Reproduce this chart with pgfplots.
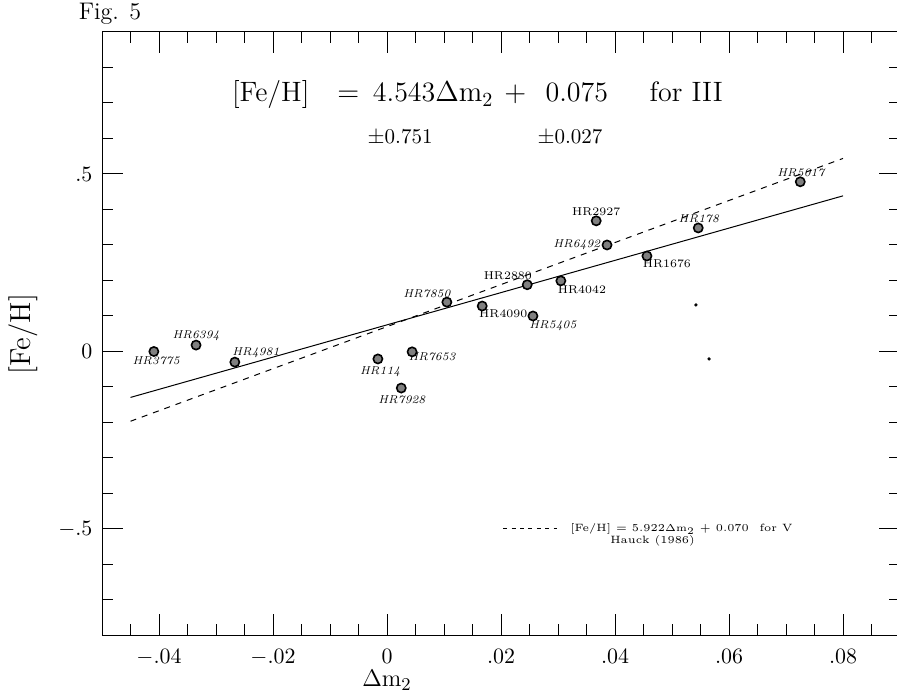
\documentclass[border=0pt]{standalone}
\usepackage{pgfplots}
\pgfplotsset{compat=1.18}
\begin{document}
\begin{tikzpicture}
\useasboundingbox (0,0) rectangle (448.5pt,347pt);
\begin{axis}[
  at={(51pt,29.25pt)}, anchor=south west, scale only axis,
  width=399pt, height=301.75pt,
  xmin=-0.05, xmax=0.09, ymin=-0.8, ymax=0.9,
  xtick={-0.04,-0.02,0,0.02,0.04,0.06,0.08},
  xticklabels={$-.04$,$-.02$,$0$,$.02$,$.04$,$.06$,$.08$},
  minor xtick={-0.045,-0.035,-0.03,-0.025,-0.015,-0.01,-0.005,0.005,0.01,0.015,0.025,0.03,0.035,0.045,0.05,0.055,0.065,0.07,0.075,0.085},
  ytick={-0.5,0,0.5}, yticklabels={$-.5$,$0$,$.5$},
  minor ytick={-0.7,-0.6,-0.4,-0.3,-0.2,-0.1,0.1,0.2,0.3,0.4,0.6,0.7,0.8},
  xtick pos=both, ytick pos=both, xticklabel pos=lower, yticklabel pos=left,
  tick align=inside, major tick length=10.5pt, minor tick length=5.5pt,
  every tick/.style={black, line width=0.5pt},
  axis line style={line width=0.5pt},
  x tick label style={font=\fontsize{11}{13}\selectfont, yshift=-3.5pt},
  y tick label style={font=\fontsize{11}{13}\selectfont, xshift=-1.3pt},
  scaled ticks=false,
  clip=false,
  xlabel={$\Delta\mathrm{m}_2$},
  xlabel style={at={(axis cs:0,-0.945)}, anchor=base, inner sep=0pt, font=\fontsize{13}{15}\selectfont},
  ylabel={[Fe/H]},
  ylabel style={at={(axis cs:-0.0639,0.049)}, anchor=center, rotate=0, font=\fontsize{14.5}{16}\selectfont},
]
% fitted relation for III (solid) and Hauck (1986) for V (dashed)
\addplot[black, line width=0.5pt] coordinates {(-0.045,-0.1294) (0.08,0.4384)};
\addplot[black, line width=0.5pt, dash pattern=on 3pt off 3pt] coordinates {(-0.045,-0.1965) (0.08,0.5438)};
% stars
\addplot[only marks, mark=*, mark size=2.3pt, mark options={fill=black!50, draw=black, line width=0.8pt}] coordinates {
(-0.0409,0.000) (-0.0335,0.018) (-0.0267,-0.030) (-0.0016,-0.021) (0.0025,-0.103)
(0.0044,-0.001) (0.0105,0.139) (0.0167,0.128) (0.0246,0.188) (0.0256,0.100)
(0.0305,0.199) (0.0367,0.368) (0.0386,0.300) (0.0456,0.269) (0.0546,0.348) (0.0725,0.478)};
% stray specks
\addplot[only marks, mark=*, mark size=0.6pt, black] coordinates {(0.0542,0.131) (0.0565,-0.021)};
% star labels
\begin{scope}[every node/.style={font=\fontsize{5.7}{7}\selectfont, inner sep=0pt}]
\node[font=\fontsize{5.7}{7}\selectfont\itshape] at (axis cs:-0.0335,0.044) {HR6394};
\node[font=\fontsize{5.7}{7}\selectfont\itshape] at (axis cs:-0.0405,-0.027) {HR3775};
\node[font=\fontsize{5.7}{7}\selectfont\itshape] at (axis cs:-0.0230,-0.004) {HR4981};
\node[font=\fontsize{5.7}{7}\selectfont\itshape] at (axis cs:-0.0012,-0.058) {HR114};
\node[font=\fontsize{5.7}{7}\selectfont\itshape] at (axis cs:0.0079,-0.015) {HR7653};
\node[font=\fontsize{5.7}{7}\selectfont\itshape] at (axis cs:0.0026,-0.137) {HR7928};
\node at (axis cs:0.0367,0.393) {HR2927};
\node[font=\fontsize{5.7}{7}\selectfont\itshape] at (axis cs:0.0547,0.373) {HR178};
\node[font=\fontsize{5.7}{7}\selectfont\itshape] at (axis cs:0.0333,0.300) {HR6492};
\node at (axis cs:0.0491,0.246) {HR1676};
\node at (axis cs:0.0212,0.213) {HR2880};
\node at (axis cs:0.0342,0.173) {HR4042};
\node[font=\fontsize{5.7}{7}\selectfont\itshape] at (axis cs:0.0070,0.162) {HR7850};
\node at (axis cs:0.0204,0.106) {HR4090};
\node[font=\fontsize{5.7}{7}\selectfont\itshape] at (axis cs:0.0291,0.072) {HR5405};
\node[font=\fontsize{5.7}{7}\selectfont\itshape] at (axis cs:0.0726,0.503) {HR5017};
\end{scope}
% main equation
\begin{scope}[every node/.style={font=\fontsize{14}{16}\selectfont, anchor=base, inner sep=0pt}]
\node at (axis cs:-0.0204,0.703) {[Fe/H]};
\node at (axis cs:-0.0068,0.703) {$=$};
\node at (axis cs:0.0081,0.703) {4.543$\Delta\mathrm{m}_2$};
\node at (axis cs:0.0225,0.703) {$+$};
\node at (axis cs:0.0333,0.703) {0.075};
\node at (axis cs:0.0525,0.703) {for III};
\end{scope}
\begin{scope}[every node/.style={font=\fontsize{10.5}{12}\selectfont, anchor=base, inner sep=0pt}]
\node at (axis cs:0.0023,0.587) {$\pm$0.751};
\node at (axis cs:0.0321,0.587) {$\pm$0.027};
\end{scope}
% legend for dashed line
\addplot[black, line width=0.5pt, dash pattern=on 2pt off 2.2pt] coordinates {(0.0204,-0.500) (0.0298,-0.500)};
\node[font=\fontsize{5.3}{7}\selectfont, anchor=base west, inner sep=0pt] at (axis cs:0.0321,-0.508) {[Fe/H] = 5.922$\Delta\mathrm{m}_2$ + 0.070\quad for V};
\node[font=\fontsize{5.3}{7}\selectfont, anchor=base, inner sep=0pt] at (axis cs:0.0466,-0.541) {Hauck (1986)};
% figure tag
\node[font=\fontsize{12}{14}\selectfont, anchor=base, inner sep=0pt] at (axis cs:-0.0486,0.934) {Fig. 5};
\end{axis}
\end{tikzpicture}
\end{document}
